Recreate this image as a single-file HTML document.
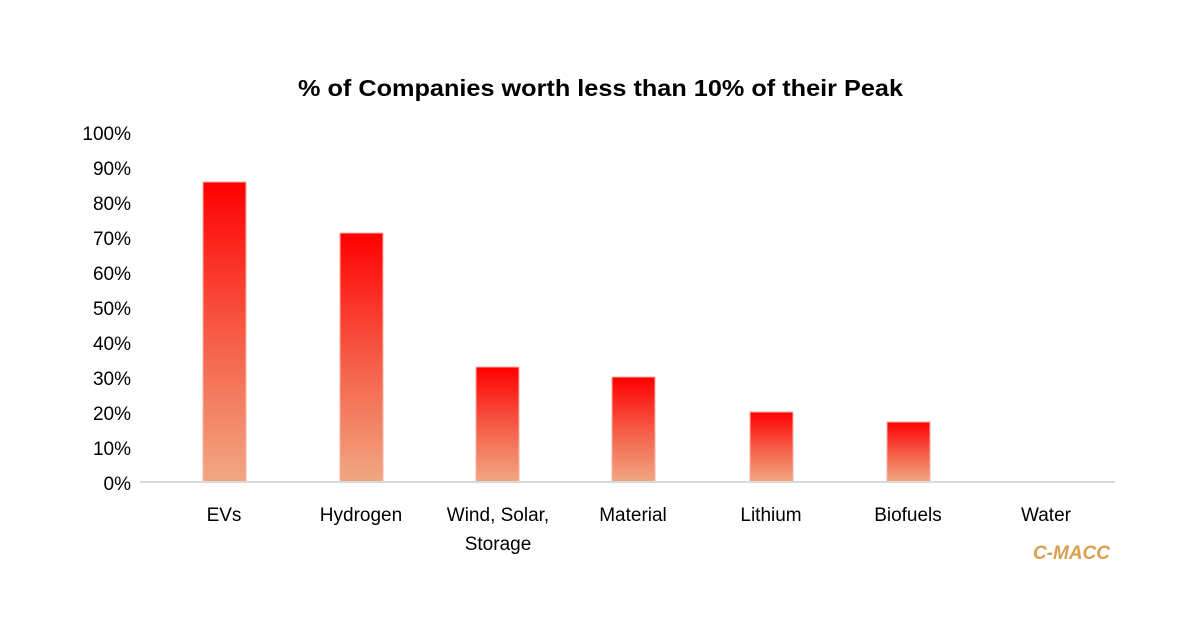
<!DOCTYPE html>
<html><head><style>body{margin:0;background:#fff}</style></head><body>
<svg width="1200" height="627" xmlns="http://www.w3.org/2000/svg" font-family="'Liberation Sans', sans-serif">
<defs><linearGradient id="g" x1="0" y1="0" x2="0" y2="1"><stop offset="0" stop-color="#ff0000"/><stop offset="0.5" stop-color="#f65a45"/><stop offset="1" stop-color="#f0a882"/></linearGradient></defs>
<rect width="1200" height="627" fill="#fff"/>
<text x="298" y="96" textLength="605" lengthAdjust="spacingAndGlyphs" font-size="23" font-weight="bold" fill="#000">% of Companies worth less than 10% of their Peak</text>
<g font-size="19" fill="#000" text-anchor="end">
<text x="131" y="140">100%</text><text x="131" y="175">90%</text><text x="131" y="210">80%</text><text x="131" y="245">70%</text><text x="131" y="280">60%</text><text x="131" y="315">50%</text><text x="131" y="350">40%</text><text x="131" y="385">30%</text><text x="131" y="420">20%</text><text x="131" y="455">10%</text><text x="131" y="490">0%</text>
</g>
<g fill="url(#g)" stroke="#f8b0a8" stroke-width="1">
<rect x="203" y="182" width="43" height="300"/>
<rect x="340" y="233" width="43" height="249"/>
<rect x="476" y="367" width="43" height="115"/>
<rect x="612" y="377" width="43" height="105"/>
<rect x="750" y="412" width="43" height="70"/>
<rect x="887" y="422" width="43" height="60"/>
</g>
<line x1="140" y1="482" x2="1115" y2="482" stroke="#d9d9d9" stroke-width="2"/>
<g font-size="19" fill="#000" text-anchor="middle">
<text x="224" y="521">EVs</text><text x="361" y="521">Hydrogen</text><text x="498" y="521">Wind, Solar,</text><text x="498" y="550">Storage</text><text x="633" y="521">Material</text><text x="771" y="521">Lithium</text><text x="908" y="521">Biofuels</text><text x="1046" y="521">Water</text>
</g>
<text x="1110" y="559" text-anchor="end" font-size="19" font-weight="bold" font-style="italic" fill="#d9a050">C-MACC</text>
</svg>
</body></html>
